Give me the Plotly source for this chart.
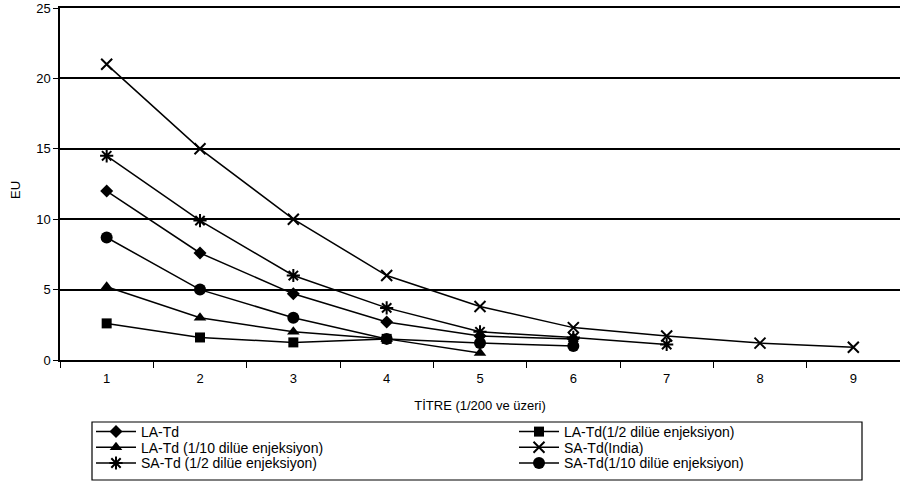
import plotly.graph_objects as go

titre = [1, 2, 3, 4, 5, 6, 7, 8, 9]
x_labels = ["1", "2", "3", "4", "5", "6", "7", "8", "9"]

la_td = [12.0, 7.6, 4.7, 2.7, 1.7, 1.5]
la_td_half = [2.6, 1.6, 1.25, 1.5]
la_td_tenth = [5.2, 3.0, 2.0, 1.5, 0.5]
sa_td_india = [21.0, 15.0, 10.0, 6.0, 3.8, 2.3, 1.7, 1.2, 0.9]
sa_td_half = [14.5, 9.9, 6.0, 3.7, 2.0, 1.6, 1.1]
sa_td_tenth = [8.7, 5.0, 3.0, 1.5, 1.2, 1.0]

series = [
    ("LA-Td", la_td, "diamond", 10),
    ("LA-Td(1/2 dilüe enjeksiyon)", la_td_half, "square", 10),
    ("LA-Td (1/10 dilüe enjeksiyon)", la_td_tenth, "triangle-up", 11),
    ("SA-Td(India)", sa_td_india, "x-thin", 11),
    ("SA-Td (1/2 dilüe enjeksiyon)", sa_td_half, "asterisk", 11),
    ("SA-Td(1/10 dilüe enjeksiyon)", sa_td_tenth, "circle", 12),
]

FONT = "Liberation Sans, Arial, sans-serif"
W, H = 900, 483

# legend slot (left px of legend, text-row centre px) per series: two columns, three rows
legend_cols = [91, 514]
legend_rows = [432, 447.7, 463.4]

fig = go.Figure()
legend_layouts = {}
for i, (name, vals, sym, size) in enumerate(series):
    lname = "legend" if i == 0 else f"legend{i + 1}"
    fig.add_trace(go.Scatter(
        x=titre[:len(vals)], y=vals, name=name, mode="lines+markers",
        legend=lname,
        line=dict(color="black", width=1.5),
        marker=dict(symbol=sym, size=size, color="black",
                    line=dict(color="black", width=2 if sym in ("x-thin", "asterisk") else 0)),
    ))
    col, row = i % 2, i // 2
    legend_layouts[lname] = dict(
        xref="container", yref="container",
        x=legend_cols[col] / W, xanchor="left",
        y=1 - legend_rows[row] / H, yanchor="middle",
        orientation="v", bgcolor="rgba(0,0,0,0)", borderwidth=0,
        font=dict(family=FONT, size=14, color="black"),
        itemwidth=40,
    )

fig.update_layout(
    width=W, height=H,
    margin=dict(l=60, r=0, t=8, b=123, autoexpand=False),
    paper_bgcolor="white", plot_bgcolor="white",
    font=dict(family=FONT, color="black", size=13),
    showlegend=True,
    xaxis=dict(
        range=[0.5, 9.5], tickmode="array", tickvals=titre, ticktext=x_labels,
        ticks="", showgrid=False, zeroline=False,
        showline=True, linecolor="black", linewidth=2, mirror=True,
        minor=dict(tickmode="array", tickvals=[0.5 + i for i in range(10)],
                   ticks="outside", ticklen=6, tickcolor="black", showgrid=False),
        tickfont=dict(size=13), ticklabelstandoff=5,
        title=dict(text="TİTRE (1/200 ve üzeri)", font=dict(size=13), standoff=16),
    ),
    yaxis=dict(
        range=[0, 25], tickmode="array", tickvals=[0, 5, 10, 15, 20, 25],
        showgrid=True, gridcolor="black", gridwidth=1.5, zeroline=False,
        showline=True, linecolor="black", linewidth=1.5,
        ticks="outside", ticklen=5, tickcolor="black",
        tickfont=dict(size=13),
    ),
    annotations=[dict(text="EU", xref="paper", yref="paper",
                      x=(15 - 60) / 840, y=(360 - 190) / 352,
                      xanchor="center", yanchor="middle", textangle=-90,
                      showarrow=False, font=dict(size=13, color="black"))],
    shapes=[dict(type="rect", xref="paper", yref="paper",
                 x0=(92 - 60) / 840, x1=(862 - 60) / 840,
                 y0=(360 - 480) / 352, y1=(360 - 422) / 352,
                 line=dict(color="black", width=1.2), fillcolor="rgba(0,0,0,0)")],
    **legend_layouts,
)

fig.write_html("out.html")
